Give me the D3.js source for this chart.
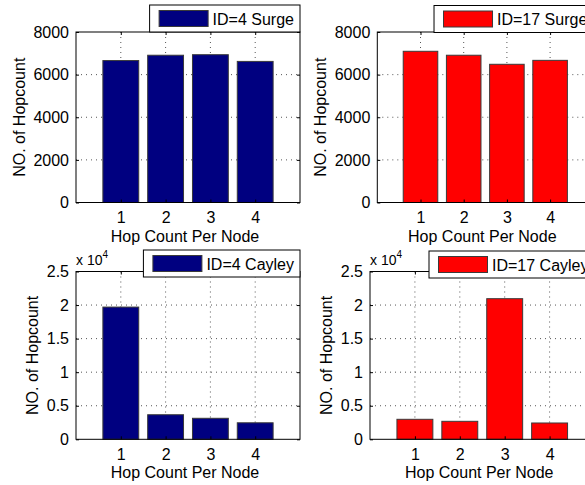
<!DOCTYPE html>
<html>
<head>
<meta charset="utf-8">
<script src="https://cdn.jsdelivr.net/npm/d3@7"></script>
<style>
  html, body { margin: 0; padding: 0; background: #fff; }
  svg { display: block; font-family: "Liberation Sans", Arial, sans-serif; }
</style>
</head>
<body>
<svg width="585" height="485"></svg>
<script>
// data
const hops = [1, 2, 3, 4];
const surge4 = [6660, 6910, 6935, 6620];
const surge17 = [7095, 6910, 6485, 6670];
const cayley4 = [19700, 3660, 3130, 2460];
const cayley17 = [2980, 2680, 20950, 2430];
const surgeTicks = [0, 2000, 4000, 6000, 8000];
const surgeTickLabels = ['0', '2000', '4000', '6000', '8000'];
const cayleyTicks = [0, 5000, 10000, 15000, 20000, 25000];
const cayleyTickLabels = ['0', '0.5', '1', '1.5', '2', '2.5'];
const legendNames = ['ID=4 Surge', 'ID=17 Surge', 'ID=4 Cayley', 'ID=17 Cayley'];

const blue = '#000080', red = '#ff0000';

const panels = [
    { vals: surge4, ticks: surgeTicks, labels: surgeTickLabels, max: 8000, color: blue, name: legendNames[0],
      left: 76, right: 300, top: 32, bottom: 202.5, legTop: 5, exp: false },
    { vals: surge17, ticks: surgeTicks, labels: surgeTickLabels, max: 8000, color: red, name: legendNames[1],
      left: 377.3, right: 593.3, top: 32, bottom: 202.5, legTop: 5.5, exp: false },
    { vals: cayley4, ticks: cayleyTicks, labels: cayleyTickLabels, max: 25000, color: blue, name: legendNames[2],
      left: 76, right: 300, top: 271.5, bottom: 439.3, legTop: 250, exp: true },
    { vals: cayley17, ticks: cayleyTicks, labels: cayleyTickLabels, max: 25000, color: red, name: legendNames[3],
      left: 370, right: 594.5, top: 271.5, bottom: 439.3, legTop: 251, exp: true }
];

const svg = d3.select('svg');

panels.forEach(p => {
    const x = d3.scaleLinear().domain([0, 5]).range([p.left, p.right]);
    const y = d3.scaleLinear().domain([0, p.max]).range([p.bottom, p.top]);
    const g = svg.append('g');

    // white axes background
    g.append('rect')
        .attr('x', p.left).attr('y', p.top)
        .attr('width', p.right - p.left).attr('height', p.bottom - p.top)
        .attr('fill', '#fff');

    // dotted grid
    g.selectAll('line.gy')
        .data(p.ticks.slice(1, -1))
        .join('line')
        .attr('class', 'gy')
        .attr('x1', p.left).attr('x2', p.right)
        .attr('y1', d => y(d)).attr('y2', d => y(d))
        .attr('stroke', '#555').attr('stroke-width', 1)
        .attr('stroke-dasharray', '1,4');
    g.selectAll('line.gx')
        .data(hops)
        .join('line')
        .attr('class', 'gx')
        .attr('x1', d => x(d)).attr('x2', d => x(d))
        .attr('y1', p.top).attr('y2', p.bottom)
        .attr('stroke', '#555').attr('stroke-width', 1)
        .attr('stroke-dasharray', '1,4');

    // bars
    g.selectAll('rect.bar')
        .data(p.vals)
        .join('rect')
        .attr('class', 'bar')
        .attr('x', (d, i) => x(hops[i] - 0.4))
        .attr('width', x(0.8) - x(0))
        .attr('y', d => y(d))
        .attr('height', d => y(0) - y(d))
        .attr('fill', p.color)
        .attr('stroke', '#3a3a3a')
        .attr('stroke-width', 1);

    // axes with inward ticks
    const fmt = (d, i) => p.labels[i];
    const yl = g.append('g').attr('transform', `translate(${p.left},0)`)
        .call(d3.axisLeft(y).tickValues(p.ticks).tickFormat(fmt).tickSize(-3).tickPadding(7));
    g.append('g').attr('transform', `translate(${p.right},0)`)
        .call(d3.axisRight(y).tickValues(p.ticks).tickFormat('').tickSize(-3));
    g.append('g').attr('transform', `translate(0,${p.bottom})`)
        .call(d3.axisBottom(x).tickValues(hops).tickFormat(d3.format('d')).tickSize(-3).tickPadding(9));
    g.append('g').attr('transform', `translate(0,${p.top})`)
        .call(d3.axisTop(x).tickValues(hops).tickFormat('').tickSize(-3));
    g.selectAll('.domain').remove();
    g.selectAll('.tick line').attr('stroke', '#000');
    g.selectAll('.tick text').attr('font-size', 16).attr('fill', '#000')
        .attr('font-family', '"Liberation Sans", Arial, sans-serif');

    // frame
    g.append('rect')
        .attr('x', p.left).attr('y', p.top)
        .attr('width', p.right - p.left).attr('height', p.bottom - p.top)
        .attr('fill', 'none').attr('stroke', '#000').attr('stroke-width', 1);

    // axis labels
    g.append('text')
        .attr('x', (p.left + p.right) / 2 - 3)
        .attr('y', p.bottom + 39)
        .attr('text-anchor', 'middle')
        .attr('font-size', 16)
        .text('Hop Count Per Node');

    const bb = yl.node().getBBox();
    g.append('text')
        .attr('transform', `translate(${p.left + bb.x - 14},${(p.top + p.bottom) / 2}) rotate(-90)`)
        .attr('text-anchor', 'middle')
        .attr('dy', '0.35em')
        .attr('font-size', 16)
        .text('NO. of Hopcount');

    if (p.exp) {
        const t = g.append('text')
            .attr('x', p.left)
            .attr('y', p.top - 7)
            .attr('font-size', 14);
        t.append('tspan').text('x 10');
        t.append('tspan').attr('font-size', 10).attr('dy', -7).text('4');
    }

    // legend
    const lg = g.append('g');
    const box = lg.append('rect')
        .attr('fill', '#fff').attr('stroke', '#000').attr('stroke-width', 1);
    const sw = lg.append('rect')
        .attr('fill', p.color).attr('stroke', '#3a3a3a').attr('stroke-width', 1);
    const lt = lg.append('text')
        .attr('font-size', 16)
        .attr('dy', '0.35em')
        .text(p.name);
    const w = lt.node().getComputedTextLength();
    const bw = 63 + w + 6;
    const bx = p.right - bw;
    box.attr('x', bx).attr('y', p.legTop).attr('width', bw).attr('height', 27);
    sw.attr('x', bx + 9.5).attr('y', p.legTop + 5.5).attr('width', 49).attr('height', 16);
    lt.attr('x', bx + 63).attr('y', p.legTop + 14);
});
</script>
</body>
</html>
